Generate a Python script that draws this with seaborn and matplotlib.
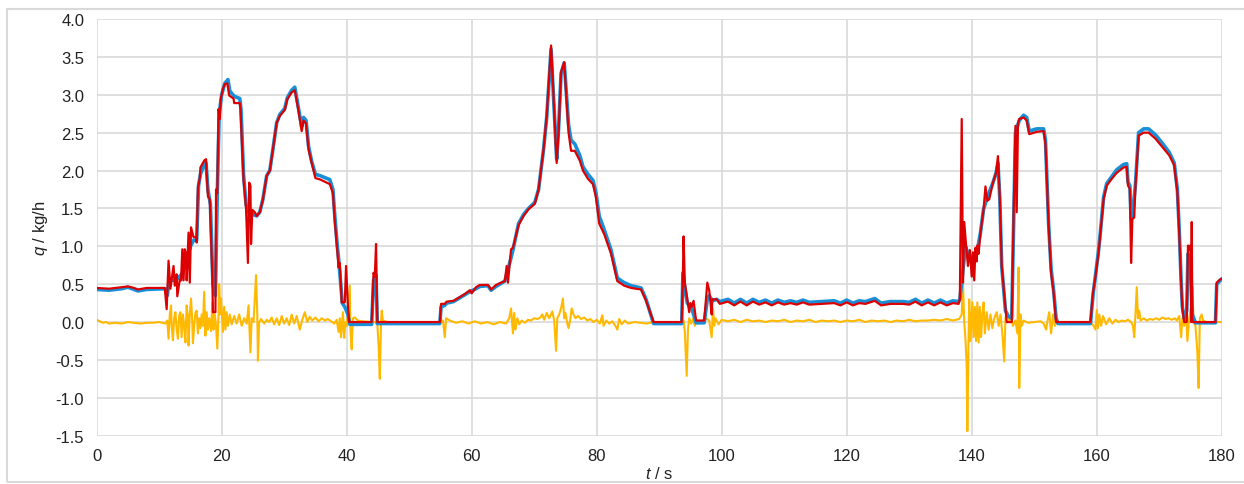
import matplotlib
matplotlib.use("Agg")
import matplotlib.pyplot as plt
import matplotlib.patches as patches
import seaborn as sns

# measured flow (blue)
t_meas = [0.0, 2.0, 4.0, 5.0, 6.6, 8.0, 10.9, 11.3, 11.6, 12.5, 13.0, 13.5, 14.0, 14.5, 15.0, 15.5, 16.0,
          16.3, 16.6, 17.2, 17.5, 17.8, 18.2, 18.6, 19.0, 19.3, 19.6, 20.0, 20.5, 21.0, 21.3, 22.0, 22.9,
          23.1, 23.5, 23.9, 24.3, 25.0, 25.6, 26.1, 26.6, 27.2, 27.7, 28.2, 28.8, 29.3, 29.6, 30.1, 30.5,
          31.2, 31.7, 32.3, 32.8, 33.1, 33.5, 33.9, 34.4, 35.0, 35.8, 37.3, 37.8, 38.1, 38.5, 38.7, 39.0,
          39.3, 39.7, 40.2, 40.5, 44.0, 44.3, 44.7, 44.9, 54.9, 55.1, 55.7, 56.0, 57.1, 58.1, 58.9, 59.7,
          60.7, 61.3, 62.6, 63.1, 63.9, 64.7, 65.3, 66.3, 66.6, 67.5, 68.3, 69.1, 70.1, 70.7, 71.5, 72.0,
          72.7, 73.1, 73.4, 73.6, 73.9, 74.3, 74.8, 75.0, 75.5, 75.9, 76.5, 77.3, 77.8, 78.6, 79.4, 79.9,
          80.4, 81.2, 82.3, 83.3, 84.4, 85.5, 87.1, 87.9, 89.1, 93.6, 93.8, 94.1, 94.5, 95.2, 95.9, 97.2,
          97.7, 98.0, 98.5, 99.2, 99.7, 101, 102, 103, 104, 105, 106, 107, 108, 109, 110, 111, 112, 113,
          114, 116, 118, 119, 120, 121, 122, 123, 124.5, 125.5, 127, 129, 130, 131, 132, 133, 134, 135,
          136, 137, 137.9, 138.1, 138.5, 139.0, 139.4, 140.0, 140.9, 141.4, 141.9, 142.5, 143.4, 143.9,
          144.2, 144.5, 144.8, 145.4, 145.8, 146.4, 146.7, 147.0, 147.6, 148.3, 148.8, 149.2, 150.4, 151.5,
          151.8, 152.3, 152.7, 153.1, 153.5, 153.8, 159.0, 159.4, 159.8, 160.3, 160.6, 161.1, 161.6, 162.4,
          163.2, 164.3, 164.8, 165.0, 165.3, 165.5, 165.7, 166.2, 166.7, 167.5, 168.3, 169.4, 170.5, 171.6,
          172.4, 172.9, 173.2, 173.5, 173.7, 174.0, 174.4, 174.6, 175.0, 175.3, 175.8, 179.0, 179.2, 180.0]
q_meas = [0.43, 0.42, 0.44, 0.46, 0.41, 0.43, 0.44, 0.35, 0.55, 0.55, 0.58, 0.62, 0.70, 0.85, 1.00, 1.08, 1.08,
          1.80, 1.95, 2.08, 2.10, 1.75, 1.55, 0.50, 0.35, 1.70, 2.75, 3.00, 3.15, 3.20, 3.05, 2.98, 2.95,
          2.80, 1.95, 1.55, 1.45, 1.42, 1.40, 1.45, 1.62, 1.93, 2.00, 2.28, 2.63, 2.74, 2.77, 2.82, 2.96,
          3.06, 3.10, 2.82, 2.58, 2.70, 2.66, 2.32, 2.12, 1.95, 1.93, 1.88, 1.75, 1.40, 1.00, 0.85, 0.55,
          0.25, 0.20, 0.10, -0.03, -0.03, 0.55, 0.62, -0.02, -0.02, 0.20, 0.22, 0.25, 0.27, 0.32, 0.36, 0.40,
          0.44, 0.47, 0.48, 0.42, 0.47, 0.51, 0.54, 0.85, 0.95, 1.30, 1.42, 1.50, 1.58, 1.75, 2.28, 2.70,
          3.60, 2.95, 2.45, 2.15, 2.55, 3.28, 3.42, 3.20, 2.60, 2.40, 2.35, 2.20, 2.05, 1.95, 1.87, 1.70,
          1.40, 1.22, 0.95, 0.58, 0.52, 0.48, 0.45, 0.30, -0.02, -0.02, 0.65, 0.45, 0.25, 0.18, -0.01, -0.01,
          0.30, 0.35, 0.28, 0.30, 0.27, 0.30, 0.25, 0.30, 0.25, 0.30, 0.26, 0.29, 0.25, 0.29, 0.26, 0.28, 0.26, 0.29,
          0.26, 0.27, 0.28, 0.25, 0.29, 0.25, 0.28, 0.27, 0.31, 0.25, 0.27, 0.27, 0.26, 0.30, 0.25, 0.29, 0.25, 0.29,
          0.25, 0.28, 0.27, 0.30, 0.60, 1.00, 0.90, 0.85, 0.95, 1.18, 1.49, 1.65, 1.84, 1.97,
          2.10, 1.62, 0.74, 0.15, 0.08, 0.05, 1.30, 2.50, 2.66, 2.73, 2.70, 2.52, 2.55, 2.55,
          2.40, 1.30, 0.70, 0.42, 0.05, -0.02, -0.02, 0.35, 0.62, 0.95, 1.20, 1.65, 1.83, 1.92,
          2.01, 2.08, 2.09, 1.85, 1.80, 1.35, 1.38, 1.82, 2.50, 2.55, 2.55, 2.47, 2.36, 2.24,
          2.10, 1.75, 1.22, 0.55, 0.20, 0.05, 0.15, 0.90, 0.80, 0.10, -0.01, -0.01, 0.50, 0.57]

# predicted flow (red)
t_pred = [0.0, 2.0, 4.0, 5.0, 6.0, 6.6, 8.0, 10.9, 11.2, 11.5, 11.8, 12.3, 12.5, 12.8, 12.9, 13.3, 13.5,
          13.7, 13.9, 14.1, 14.3, 14.4, 14.7, 14.9, 15.1, 15.5, 15.9, 16.0, 16.2, 16.5, 16.6, 17.2, 17.5,
          17.6, 17.8, 18.1, 18.5, 18.6, 19.0, 19.1, 19.3, 19.5, 19.7, 19.85, 20.2, 20.5, 20.9, 21.2, 21.9,
          22.0, 22.9, 23.0, 23.5, 23.9, 24.2, 24.4, 24.6, 24.7, 24.9, 25.3, 25.6, 26.1, 26.6, 27.2, 27.7,
          28.2, 28.8, 29.3, 29.6, 30.1, 30.5, 31.2, 31.7, 32.3, 32.8, 33.1, 33.5, 33.9, 34.4, 35.0, 35.8,
          37.3, 37.8, 38.1, 38.5, 38.7, 38.9, 39.2, 39.7, 39.9, 40.2, 40.4, 44.0, 44.3, 44.5, 44.7, 44.9,
          54.9, 55.1, 55.7, 56.0, 57.1, 58.1, 58.9, 59.7, 60.0, 60.7, 61.3, 62.6, 63.1, 63.9, 64.7, 65.3,
          65.6, 65.8, 66.1, 66.3, 66.6, 67.5, 68.3, 69.1, 70.1, 70.7, 71.5, 72.0, 72.7, 73.1, 73.4, 73.6,
          73.9, 74.3, 74.8, 75.0, 75.5, 75.9, 76.5, 77.3, 77.8, 78.6, 79.4, 79.9, 80.4, 81.2, 82.3, 83.3,
          84.4, 85.5, 87.1, 87.9, 89.1, 93.6, 93.8, 93.9, 94.1, 94.5, 94.8, 95.0, 95.2, 95.5, 95.9, 97.2,
          97.7, 98.0, 98.4, 98.5, 99.2, 99.7, 101, 102, 103, 104, 105, 106, 107, 108, 109, 110, 111, 112,
          113, 114, 116, 118, 119, 120, 121, 122, 123, 124.5, 125.5, 127, 129, 130, 131, 132, 133, 134,
          135, 136, 137, 137.9, 138.1, 138.4, 138.6, 138.8, 139.1, 139.4, 139.7, 140.0, 140.2, 140.4,
          140.6, 140.8, 140.9, 141.1, 141.4, 141.9, 142.2, 142.5, 142.8, 143.4, 143.9, 144.2, 144.5, 144.8,
          145.6, 146.4, 146.7, 147.0, 147.2, 147.4, 147.6, 148.3, 148.8, 149.2, 150.4, 151.5, 151.8, 152.3,
          152.7, 153.1, 153.5, 159.0, 159.4, 159.8, 160.3, 160.6, 161.1, 161.6, 162.4, 163.2, 164.3, 164.8,
          165.0, 165.3, 165.5, 165.7, 166.0, 166.2, 166.7, 167.5, 168.3, 169.4, 170.5, 171.6, 172.4, 172.9,
          173.2, 173.5, 173.7, 174.0, 174.4, 174.6, 174.8, 175.0, 175.1, 175.2, 175.3, 179.0, 179.2, 179.7, 180.0]
q_pred = [0.45, 0.44, 0.46, 0.47, 0.45, 0.43, 0.45, 0.45, 0.17, 0.81, 0.44, 0.74, 0.48, 0.63, 0.34, 0.56, 0.55,
          0.96, 0.55, 0.96, 0.90, 0.55, 1.18, 0.52, 1.25, 1.12, 1.12, 1.05, 1.77, 1.90, 2.04, 2.13, 2.15,
          1.96, 1.66, 1.62, 0.61, 0.13, 0.13, 1.75, 1.70, 2.81, 2.68, 2.94, 3.08, 3.14, 3.15, 2.99, 2.95,
          2.89, 2.89, 2.82, 1.88, 1.50, 0.78, 1.84, 1.80, 1.03, 1.48, 1.45, 1.40, 1.45, 1.62, 1.93, 2.00,
          2.28, 2.63, 2.72, 2.75, 2.80, 2.94, 3.03, 3.06, 2.78, 2.52, 2.66, 2.62, 2.28, 2.10, 1.90, 1.88,
          1.82, 1.70, 1.33, 0.94, 0.72, 0.78, 0.26, 0.26, 0.74, 0.22, 0.0, 0.0, 0.65, 0.60, 1.03, 0.0,
          0.0, 0.24, 0.24, 0.27, 0.28, 0.33, 0.37, 0.42, 0.38, 0.46, 0.49, 0.49, 0.43, 0.49, 0.52, 0.54,
          0.74, 0.52, 0.78, 0.96, 0.98, 1.28, 1.40, 1.49, 1.56, 1.75, 2.28, 2.72, 3.65, 2.98, 2.41, 2.10,
          2.50, 3.30, 3.43, 3.17, 2.50, 2.26, 2.26, 2.13, 2.00, 1.89, 1.82, 1.64, 1.30, 1.16, 0.90, 0.54,
          0.48, 0.45, 0.43, 0.28, 0.0, 0.0, 0.65, 1.13, 0.52, 0.30, 0.13, 0.25, 0.20, 0.28, 0.02, 0.02,
          0.52, 0.42, 0.10, 0.30, 0.30, 0.24, 0.27, 0.22, 0.27, 0.22, 0.27, 0.23, 0.26, 0.22, 0.26, 0.23, 0.25, 0.23,
          0.26, 0.23, 0.24, 0.25, 0.22, 0.26, 0.22, 0.25, 0.24, 0.28, 0.22, 0.24, 0.24, 0.23, 0.27, 0.22, 0.26, 0.22,
          0.26, 0.22, 0.25, 0.24, 0.30, 2.68, 0.52, 1.32, 1.01, 0.74, 0.95, 0.60, 0.92, 0.55,
          0.98, 0.80, 1.01, 0.90, 1.18, 1.49, 1.79, 1.60, 1.62, 1.84, 1.97, 2.19, 1.62, 0.74,
          0.0, 0.0, 1.40, 2.59, 1.45, 2.62, 2.68, 2.70, 2.66, 2.48, 2.51, 2.52, 2.35, 1.27,
          0.65, 0.39, 0.0, 0.0, 0.39, 0.60, 0.92, 1.18, 1.62, 1.80, 1.89, 1.97, 2.04, 2.05,
          1.80, 1.76, 0.78, 1.36, 1.38, 1.80, 2.46, 2.50, 2.50, 2.42, 2.31, 2.20, 2.07, 1.71,
          1.18, 0.52, 0.17, 0.0, 0.0, 1.01, 0.95, 1.01, 0.0, 1.32, 0.0, 0.0, 0.52, 0.56, 0.57]

# error (orange)
t_err = [0.0, 0.5, 1.0, 1.5, 2.0, 3.0, 4.0, 5.0, 6.0, 7.0, 8.0, 9.0, 10.0, 11.0, 11.3, 11.5, 11.7, 11.9,
         12.0, 12.2, 12.4, 12.6, 12.8, 13.0, 13.2, 13.4, 13.6, 13.8, 14.0, 14.2, 14.4, 14.6, 14.7, 14.9,
         15.1, 15.3, 15.4, 15.6, 15.8, 16.0, 16.2, 16.4, 16.6, 16.8, 17.0, 17.2, 17.4, 17.6, 17.8, 18.0,
         18.3, 18.5, 18.7, 18.9, 19.1, 19.3, 19.5, 19.6, 19.8, 19.9, 20.2, 20.4, 20.6, 20.8, 21.0, 21.3,
         21.6, 22.0, 22.4, 22.8, 23.2, 23.6, 24.0, 24.3, 24.6, 24.8, 25.1, 25.3, 25.5, 25.7, 25.8, 26.0,
         26.3, 26.8, 27.2, 27.6, 28.0, 28.4, 28.8, 29.2, 29.6, 30.0, 30.4, 30.8, 31.2, 31.6, 32.0, 32.5,
         32.9, 33.3, 33.7, 34.1, 34.5, 35.0, 35.5, 36.0, 36.5, 37.0, 37.5, 38.0, 38.4, 38.7, 38.9, 39.1,
         39.4, 39.6, 39.8, 40.0, 40.2, 40.5, 40.6, 40.8, 41.0, 41.3, 41.8, 42.5, 44.0, 44.5, 44.9, 45.1,
         45.3, 45.5, 45.6, 45.8, 46.5, 55.0, 55.4, 55.7, 55.9, 56.5, 57.5, 58.5, 59.5, 60.5, 61.5, 62.5,
         63.5, 64.5, 65.5, 66.0, 66.3, 66.5, 66.6, 66.8, 67.0, 67.3, 67.6, 68.0, 68.5, 69.0, 69.5, 70.0,
         70.5, 71.0, 71.3, 71.6, 72.0, 72.4, 72.9, 73.2, 73.5, 73.7, 74.0, 74.3, 74.6, 74.8, 75.0, 75.3,
         75.5, 75.8, 76.0, 76.3, 76.6, 77.0, 77.5, 78.0, 78.5, 79.0, 79.5, 80.0, 80.5, 80.9, 81.1, 81.5,
         82.0, 82.5, 83.0, 83.3, 83.6, 84.0, 84.5, 85.0, 86.0, 87.0, 88.0, 89.0, 89.5, 90.0, 93.6, 93.9,
         94.1, 94.4, 94.6, 94.8, 95.1, 95.4, 95.7, 96.0, 96.5, 97.0, 97.5, 98.0, 98.4, 98.6, 98.8, 99.0,
         99.5, 100.0, 101, 102, 103, 104, 105, 106, 107, 108, 109, 110, 111, 112, 113, 114, 115, 116,
         117, 118, 119, 120, 121, 122, 123, 124, 125, 126, 127, 128, 129, 130, 131, 132, 133, 134, 135,
         136, 137, 138.0, 138.4, 138.6, 138.8, 139.0, 139.2, 139.3, 139.5, 139.6, 139.8, 140.0, 140.1,
         140.3, 140.5, 140.7, 140.9, 141.1, 141.3, 141.5, 141.7, 141.9, 142.1, 142.4, 142.7, 143.0, 143.3,
         143.6, 144.0, 144.3, 144.6, 144.9, 145.2, 145.4, 145.7, 146.0, 146.3, 146.6, 147.0, 147.3, 147.5,
         147.6, 147.8, 148.0, 148.3, 149.0, 150.0, 151.0, 151.5, 151.9, 152.2, 152.4, 152.7, 153.0, 153.3,
         153.6, 154.0, 159.0, 159.5, 159.8, 160.0, 160.2, 160.4, 160.7, 161.0, 161.5, 162.0, 162.5, 163.0,
         163.5, 164.0, 164.5, 165.0, 165.5, 165.8, 166.0, 166.2, 166.4, 166.6, 166.8, 167.0, 167.5, 168.0,
         168.5, 169.0, 169.5, 170.0, 170.5, 171.0, 171.5, 172.0, 172.5, 172.8, 173.2, 173.5, 173.7, 174.0,
         174.3, 174.5, 174.8, 175.1, 175.3, 175.5, 175.8, 176.1, 176.3, 176.5, 176.8, 177.0, 177.5, 180.0]
q_err = [0.03, 0.01, -0.01, 0.00, -0.02, -0.01, -0.02, 0.00, -0.01, -0.02, -0.01, -0.01, 0.00, -0.02, 0.02, -0.22, 0.10, 0.22,
         -0.05, -0.24, 0.05, 0.13, -0.10, -0.22, 0.08, 0.13, -0.20, 0.10, -0.05, -0.27, 0.22, 0.05, -0.31, 0.10,
         0.31, 0.00, -0.28, -0.05, 0.12, 0.15, -0.15, 0.05, -0.08, 0.10, -0.05, 0.40, -0.18, 0.13, -0.10, 0.05,
         -0.12, 0.26, -0.10, 0.10, -0.05, -0.35, 0.10, 0.50, 0.10, 0.31, -0.13, 0.20, -0.10, 0.13, -0.05, 0.10,
         -0.03, 0.08, -0.02, 0.10, -0.05, 0.05, -0.02, 0.22, -0.40, 0.05, 0.00, 0.30, 0.62, 0.10, -0.51, 0.00,
         0.04, -0.02, 0.03, 0.00, 0.06, -0.03, 0.05, -0.04, 0.08, -0.02, 0.05, -0.04, 0.10, -0.02, 0.08, -0.10,
         0.03, 0.13, 0.00, 0.07, 0.02, 0.06, 0.01, 0.05, 0.02, 0.04, 0.01, -0.02, 0.03, -0.13, 0.05, -0.20,
         0.13, -0.21, 0.00, -0.05, 0.10, 0.48, -0.10, -0.36, 0.05, 0.06, 0.02, 0.01, 0.00, 0.00, -0.02, -0.30,
         -0.75, 0.00, 0.15, 0.02, 0.00, 0.00, 0.02, -0.20, 0.05, 0.02, -0.01, 0.01, -0.02, 0.01, -0.02, 0.00,
         -0.03, 0.00, -0.02, 0.05, 0.18, -0.05, -0.15, 0.12, -0.10, 0.05, -0.03, 0.02, -0.01, 0.03, 0.02, 0.05,
         0.04, 0.06, 0.10, 0.03, 0.12, 0.05, 0.14, 0.02, -0.38, 0.05, 0.10, 0.18, 0.31, 0.05, 0.12, -0.02,
         -0.08, 0.05, 0.18, 0.10, 0.05, 0.08, 0.04, 0.06, 0.02, 0.04, 0.00, 0.03, -0.02, 0.09, -0.05, 0.02,
         -0.02, 0.01, -0.05, -0.10, 0.04, -0.03, 0.02, -0.02, 0.00, -0.01, -0.02, 0.00, -0.03, 0.00, 0.00, 0.02,
         -0.13, -0.71, -0.10, 0.05, -0.02, 0.04, -0.05, 0.03, -0.02, 0.01, 0.05, 0.02, -0.20, 0.18, -0.05, 0.05,
         -0.03, 0.03, 0.01, 0.03, 0.00, 0.03, 0.01, 0.02, 0.00, 0.02, 0.01, 0.03, 0.00, 0.02, 0.01, 0.03, 0.00, 0.02,
         0.01, 0.02, 0.00, 0.02, 0.01, 0.03, 0.00, 0.02, 0.01, 0.02, 0.00, 0.02, 0.01, 0.03, 0.01, 0.02, 0.02, 0.03, 0.02,
         0.04, 0.02, 0.04, 0.10, 0.52, 0.00, -0.22, -0.60, -1.44, -0.20, 0.30, -0.25, 0.10, 0.26,
         -0.20, 0.20, -0.25, 0.26, -0.27, 0.20, -0.20, 0.10, 0.26, -0.15, 0.13, -0.10, 0.10, -0.08,
         0.05, 0.13, -0.05, 0.10, -0.15, -0.52, 0.05, 0.13, 0.02, 0.06, -0.05, 0.02, -0.15, 0.72,
         -0.87, 0.10, -0.05, 0.02, -0.01, 0.00, 0.01, -0.02, -0.10, 0.05, 0.13, -0.15, 0.10, -0.05,
         0.02, 0.00, 0.00, -0.05, -0.10, 0.16, -0.08, 0.10, -0.05, 0.08, -0.03, 0.05, -0.02, 0.03,
         0.00, 0.02, 0.01, 0.03, 0.00, -0.05, -0.20, 0.10, 0.46, 0.05, 0.15, 0.02, 0.05, 0.02,
         0.04, 0.03, 0.05, 0.03, 0.06, 0.04, 0.05, 0.03, 0.05, 0.02, 0.08, -0.20, 0.05, -0.05,
         0.12, -0.25, 0.05, 0.20, 0.46, 0.00, -0.05, -0.40, -0.87, 0.05, 0.10, 0.02, 0.00, 0.00]

x_ticks = [0, 20, 40, 60, 80, 100, 120, 140, 160, 180]
y_ticks = [-1.5, -1.0, -0.5, 0.0, 0.5, 1.0, 1.5, 2.0, 2.5, 3.0, 3.5, 4.0]

sns.set_style("whitegrid", {"grid.color": "#d9d9d9", "axes.edgecolor": "#d9d9d9"})
plt.rcParams["font.family"] = ["Liberation Sans", "DejaVu Sans"]
plt.rcParams["mathtext.fontset"] = "custom"
plt.rcParams["mathtext.it"] = "Liberation Sans:italic"
plt.rcParams["mathtext.rm"] = "Liberation Sans"

fig = plt.figure(figsize=(12.44, 4.85), dpi=100)
ax = fig.add_axes([0.0777, 0.0996, 0.9044, 0.8592])

# error first, then measured, prediction on top
sns.lineplot(x=t_err, y=q_err, ax=ax, color="#ffb900", linewidth=1.5, sort=False, estimator=None)
sns.lineplot(x=t_meas, y=q_meas, ax=ax, color="#1a8fd8", linewidth=2.6, sort=False, estimator=None)
sns.lineplot(x=t_pred, y=q_pred, ax=ax, color="#dd0000", linewidth=1.6, sort=False, estimator=None)

ax.set_xlim(0, 180)
ax.set_ylim(-1.5, 4.0)
ax.set_xticks(x_ticks)
ax.set_yticks(y_ticks)
ax.set_yticklabels([f"{v:.1f}" for v in y_ticks])
ax.tick_params(axis="both", length=0, labelsize=12, colors="#222222", pad=9)
ax.grid(True, color="#d9d9d9", linewidth=1.2)
for s in ax.spines.values():
    s.set_visible(False)

ax.set_xlabel("$t$ / s", fontsize=12, color="#222222", labelpad=1)
ax.set_ylabel("$q$ / kg/h", fontsize=12, color="#222222", labelpad=4)

# light frame around the figure, clipped on the right
fig.patches.append(patches.Rectangle((0.0055, 0.004), 1.2, 0.975, transform=fig.transFigure,
                                     fill=False, edgecolor="#d9d9d9", linewidth=1.5))

fig.savefig("out.png", dpi=100)
